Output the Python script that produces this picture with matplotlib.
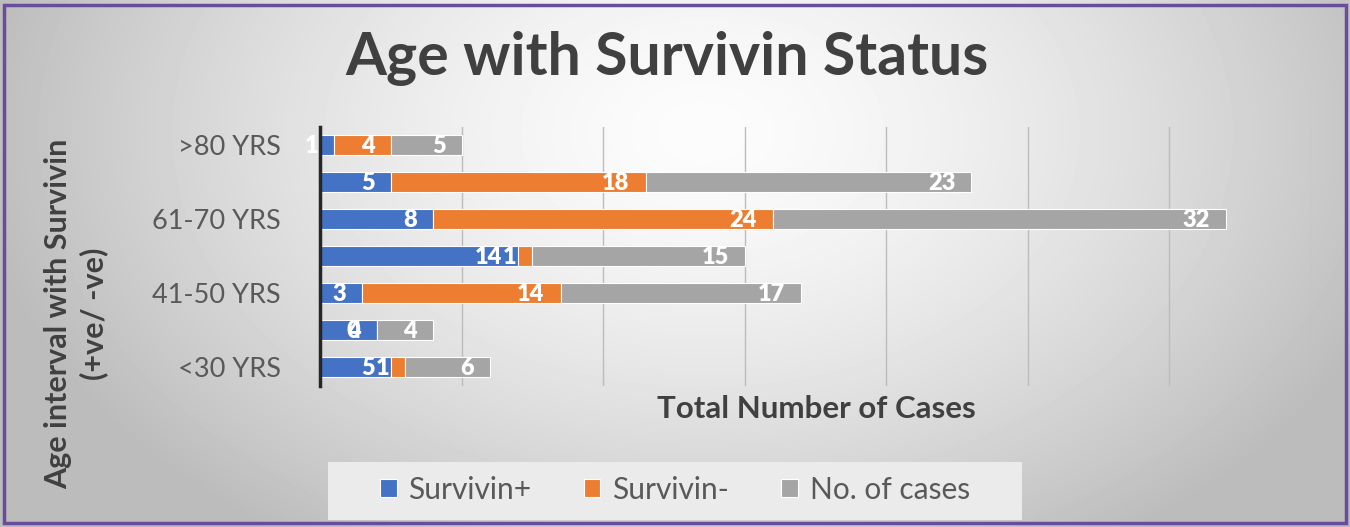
import matplotlib.pyplot as plt
import numpy as np
from matplotlib.patches import Rectangle

categories = ["<30 YRS", "31-40 YRS", "41-50 YRS", "51-60 YRS", "61-70 YRS", "71-80 YRS", ">80 YRS"]
tick_labels = ["<30 YRS", "", "41-50 YRS", "", "61-70 YRS", "", ">80 YRS"]
survivin_pos = [5, 4, 3, 14, 8, 5, 1]
survivin_neg = [1, 0, 14, 1, 24, 18, 4]
no_of_cases = [6, 4, 17, 15, 32, 23, 5]
series_names = ["Survivin+", "Survivin-", "No. of cases"]
colors = ["#4472C4", "#ED7D31", "#A5A5A5"]

plt.rcParams["font.family"] = ["Lato", "DejaVu Sans"]

W, H = 1350, 527
fig = plt.figure(figsize=(W / 100, H / 100), dpi=100)

# soft radial background like the office chart style
bg = fig.add_axes([0, 0, 1, 1], zorder=-2)
yy, xx = np.mgrid[0:H, 0:W]
r = np.sqrt(((xx / W - 0.52) / 0.55) ** 2 + ((yy / H - 0.25) / 0.95) ** 2)
shade = np.clip(252 - 66 * r ** 1.5, 188, 252) / 255.0
bg.imshow(shade, cmap="gray", vmin=0, vmax=1, aspect="auto", extent=(0, 1, 0, 1), origin="upper")
bg.set_axis_off()

ax = fig.add_axes([320 / W, 1 - 385.5 / H, 991 / W, 259 / H])
ax.set_facecolor("none")

y = np.arange(len(categories))
left = np.zeros(len(categories))
for name, vals, col in zip(series_names, [survivin_pos, survivin_neg, no_of_cases], colors):
    vals = np.array(vals, dtype=float)
    ax.barh(y, vals, left=left, height=0.55, color=col, edgecolor="white", linewidth=0.8, label=name, zorder=3)
    for yi, v, l in zip(y, vals, left):
        ax.annotate(f"{int(v)}", xy=(l + v, yi), xytext=(-16, -1), textcoords="offset pixels",
                    ha="right", va="center", color="white", fontsize=17, fontweight="heavy", zorder=5)
    left = left + vals

ax.set_xlim(0, 70)
ax.set_ylim(-0.5, len(categories) - 0.5)
ax.set_xticks(np.arange(0, 71, 10))
ax.set_xticklabels([])
ax.tick_params(axis="x", length=0)
ax.xaxis.grid(True, color="#bcbcbc", linewidth=1.0, zorder=0)
ax.set_axisbelow(True)
ax.set_yticks(y)
ax.set_yticklabels(tick_labels, fontsize=19.5, color="#595959")
ax.tick_params(axis="y", length=0, pad=28)
for side in ["top", "right", "bottom"]:
    ax.spines[side].set_visible(False)
ax.spines["left"].set_color("#262626")
ax.spines["left"].set_linewidth(2.5)
ax.spines["left"].set_zorder(6)

fig.text(667 / W, 1 - 58 / H, "Age with Survivin Status", ha="center", va="center",
         fontsize=42.5, fontweight="bold", color="#404040")
fig.text(816 / W, 1 - 409 / H, "Total Number of Cases", ha="center", va="center",
         fontsize=22.5, fontweight="bold", color="#404040")
fig.text(76 / W, 1 - 314 / H, "Age interval with Survivin\n(+ve/ -ve)", ha="center", va="center",
         rotation=90, fontsize=22, fontweight="bold", color="#404040", linespacing=1.3)

# legend panel
fig.patches.append(Rectangle((328 / W, 1 - 520 / H), 694 / W, 58 / H, transform=fig.transFigure,
                             facecolor="#ebebeb", edgecolor="none", zorder=-1))
handles, labels = ax.get_legend_handles_labels()
leg = fig.legend(handles, labels, loc="center", bbox_to_anchor=(675 / W, 1 - 490 / H), ncol=3,
                 frameon=False, fontsize=21.5, handlelength=0.55, handleheight=0.55,
                 handletextpad=0.4, columnspacing=1.75)
for t in leg.get_texts():
    t.set_color("#595959")

fig.patches.append(Rectangle((4 / W, 4 / H), 1 - 8 / W, 1 - 9 / H, transform=fig.transFigure,
                             facecolor="none", edgecolor="#6a4c9c", linewidth=2.5, zorder=10))

fig.savefig("out.png", dpi=100)
